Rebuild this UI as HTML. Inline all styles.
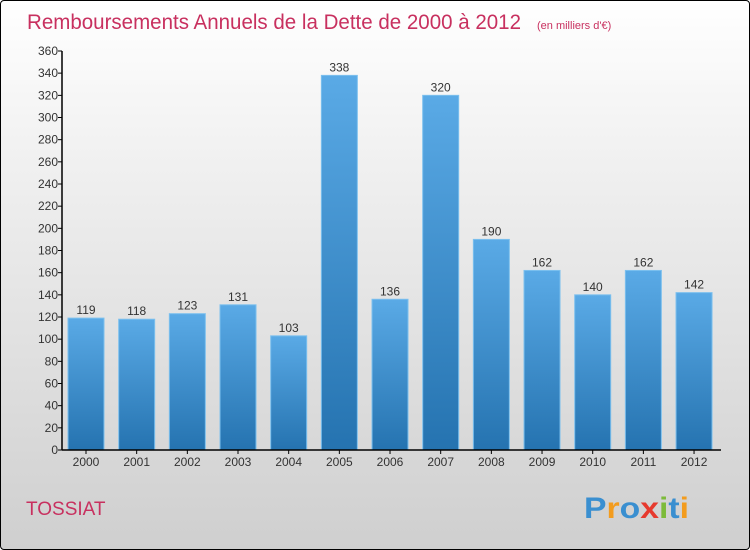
<!DOCTYPE html>
<html><head><meta charset="utf-8"><style>
body{margin:0}
#c{position:relative;width:748px;height:548px;border:1px solid #000;border-radius:4px;background:linear-gradient(#ffffff,#f0f0f0 30%,#cfcfcf);overflow:hidden;font-family:"Liberation Sans",sans-serif}
</style></head><body>
<div id="c">
<svg id="s" width="748" height="548"></svg>
</div>
<script>
const years=["2000","2001","2002","2003","2004","2005","2006","2007","2008","2009","2010","2011","2012"];
const values=[119,118,123,131,103,338,136,320,190,162,140,162,142];
const yTicks=[0,20,40,60,80,100,120,140,160,180,200,220,240,260,280,300,320,340,360];
const NS="http://www.w3.org/2000/svg";
const s=document.getElementById('s');
function el(t,a,txt){const e=document.createElementNS(NS,t);for(const k in a)e.setAttribute(k,a[k]);if(txt!==undefined)e.textContent=txt;s.appendChild(e);return e;}
const y0=449,yTop=50,vmax=360;
const y=v=>y0-(v/vmax)*(y0-yTop);
const x=i=>85+i*50.67;
const bw=36;
const defs=el('defs',{});
defs.innerHTML='<linearGradient id="g" x1="0" y1="0" x2="0" y2="1"><stop offset="0" stop-color="#5aaae6"/><stop offset="1" stop-color="#2573b0"/></linearGradient>';
let t=el('text',{x:26,y:28,'font-size':21,fill:'#c8305f',textLength:494,lengthAdjust:'spacingAndGlyphs'},'Remboursements Annuels de la Dette de 2000 à 2012');

t=el('text',{x:536,y:28,'font-size':11,fill:'#c8305f'},'(en milliers d\'€)');

values.forEach((v,i)=>{
 const r=el('rect',{x:x(i)-bw/2,y:y(v),width:bw,height:y0-y(v),fill:'url(#g)',stroke:'#7cc0ee','stroke-width':1});
 
 const l=el('text',{x:x(i),y:y(v)-4,'font-size':12,'text-anchor':'middle',fill:'#333'},String(v));
 
 const yl=el('text',{x:x(i),y:y0+16,'font-size':12,'text-anchor':'middle',fill:'#333'},years[i]);
 
 const tk=el('line',{x1:x(i),x2:x(i),y1:y0,y2:y0+4,stroke:'#000'});
 
});
yTicks.forEach(v=>{
 const tk=el('line',{x1:57,x2:61,y1:y(v),y2:y(v),stroke:'#000'});
 
 const l=el('text',{x:57,y:y(v)+4,'font-size':12,'text-anchor':'end',fill:'#333'},String(v));
 
});
let a=el('line',{x1:61,x2:61,y1:yTop,y2:y0,stroke:'#000','stroke-width':1.5});

a=el('line',{x1:61,x2:720,y1:y0,y2:y0,stroke:'#000','stroke-width':1.5});

t=el('text',{x:25,y:514,'font-size':19,fill:'#c8305f'},'TOSSIAT');

const logo=el('text',{x:583,y:517,'font-size':30,'font-weight':'bold',textLength:105,lengthAdjust:'spacingAndGlyphs'});

[['P','#3a8fd0'],['r','#f39c1e'],['o','#3a8fd0'],['x','#e63a2e'],['i','#7dbb3a'],['t','#3a8fd0'],['i','#f39c1e']].forEach(([c,f])=>{const sp=document.createElementNS(NS,'tspan');sp.setAttribute('fill',f);sp.textContent=c;logo.appendChild(sp);});
</script>
</body></html>
